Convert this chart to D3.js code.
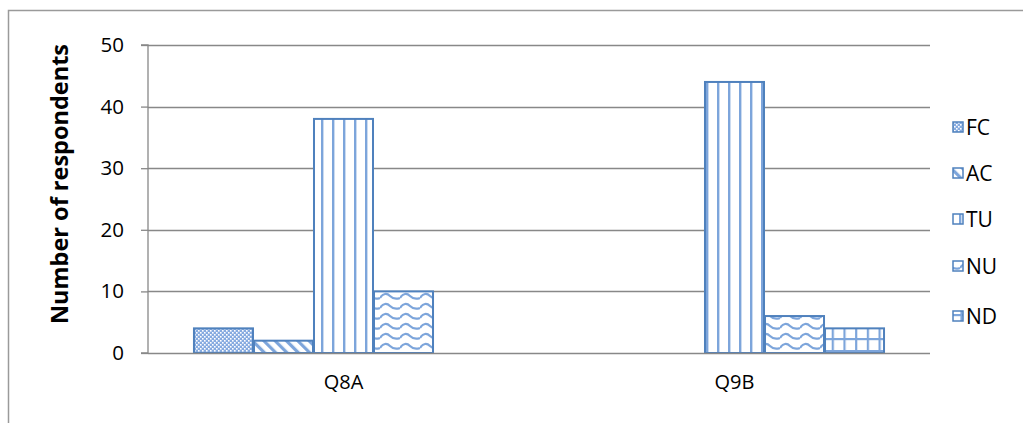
<!DOCTYPE html>
<html><head><meta charset="utf-8">
<script src="https://cdn.jsdelivr.net/npm/d3@7"></script>
<style>body{margin:0;background:#fff;overflow:hidden}svg{display:block}text{font-family:"Open Sans",sans-serif;fill:#000}</style>
</head><body><svg id="c" width="1023" height="423"></svg>
<script>
const categories = ["Q8A", "Q9B"];
const seriesNames = ["FC", "AC", "TU", "NU", "ND"];
const FC = [4, 0];
const AC = [2, 0];
const TU = [38, 44];
const NU = [10, 6];
const ND = [0, 4];
const yTicks = [0, 10, 20, 30, 40, 50];
const seriesValues = [FC, AC, TU, NU, ND];

const svg = d3.select("#c");
const blue = "#4F81BD", light = "#7DA5DB";
const defs = svg.append("defs");
// patterns
let p = defs.append("pattern").attr("id","p0").attr("patternUnits","userSpaceOnUse").attr("width",4).attr("height",4);
p.append("rect").attr("width",4).attr("height",4).attr("fill","#86ABE0");
p.append("rect").attr("x",0).attr("y",0).attr("width",1.6).attr("height",1.6).attr("fill","#fff");
p.append("rect").attr("x",2).attr("y",2).attr("width",1.6).attr("height",1.6).attr("fill","#fff");
p = defs.append("pattern").attr("id","p1").attr("patternUnits","userSpaceOnUse").attr("width",8).attr("height",8).attr("patternTransform","rotate(-45)");
p.append("rect").attr("width",8).attr("height",8).attr("fill","#fff");
p.append("rect").attr("x",0).attr("width",3.2).attr("height",8).attr("fill",light);
p = defs.append("pattern").attr("id","p2").attr("patternUnits","userSpaceOnUse").attr("width",11).attr("height",10).attr("x",2);
p.append("rect").attr("width",11).attr("height",10).attr("fill","#fff");
p.append("rect").attr("x",0).attr("width",2.4).attr("height",10).attr("fill",light);
p = defs.append("pattern").attr("id","p3").attr("patternUnits","userSpaceOnUse").attr("width",20).attr("height",10).attr("y",1);
p.append("rect").attr("width",20).attr("height",10).attr("fill","#fff");
p.append("path").attr("d","M0,7 C3,2 7,2 10,5 C13,8 17,8 20,7").attr("fill","none").attr("stroke",light).attr("stroke-width",2.2);
p = defs.append("pattern").attr("id","p4").attr("patternUnits","userSpaceOnUse").attr("width",11.7).attr("height",12).attr("x",1).attr("y",2);
p.append("rect").attr("width",11.7).attr("height",12).attr("fill","#fff");
p.append("rect").attr("x",0).attr("width",2.2).attr("height",12).attr("fill",light);
p.append("rect").attr("y",0).attr("width",11.7).attr("height",2.2).attr("fill",light);

// outer border
svg.append("rect").attr("x",8.5).attr("y",10.5).attr("width",1030).attr("height",430).attr("fill","none").attr("stroke","#9a9a9a").attr("stroke-width",1.5);

const pl = 148, pr = 930, pt = 45, pb = 353;
const y = d3.scaleLinear().domain([0,50]).range([pb, pt]);
const x0 = d3.scaleBand().domain(categories).range([pl, pr]).paddingInner(0.2326).paddingOuter(0.1163);
const x1 = d3.scaleBand().domain(seriesNames).range([0, x0.bandwidth()]);

// gridlines
svg.append("g").selectAll("line").data(yTicks.filter(d=>d>0)).join("line")
  .attr("x1",pl).attr("x2",pr).attr("y1",d=>Math.round(y(d))+0.5).attr("y2",d=>Math.round(y(d))+0.5)
  .attr("stroke","#888").attr("stroke-width",1.3);

// bars
const g = svg.append("g");
categories.forEach((c, ci) => {
  seriesNames.forEach((s, si) => {
    const v = seriesValues[si][ci];
    if (v <= 0) return;
    g.append("rect").attr("x", x0(c) + x1(s) + 0.5).attr("y", y(v)).attr("width", x1.bandwidth() - 1)
      .attr("height", y(0) - y(v)).attr("fill", `url(#p${si})`).attr("stroke", blue).attr("stroke-width", 2);
  });
});

// y axis
const ya = svg.append("g").attr("transform",`translate(${pl},0)`)
  .call(d3.axisLeft(y).tickValues(yTicks).tickSize(7).tickPadding(17));
ya.select(".domain").attr("stroke","#888").attr("stroke-width",1.3).attr("d",`M-7,${pt}H0V${pb}H-7`);
ya.selectAll(".tick line").attr("stroke","#888").attr("stroke-width",1.3);
ya.selectAll(".tick text").style("font-size","20.5px").style("font-family","Open Sans");
// baseline
svg.append("line").attr("x1",pl).attr("x2",pr).attr("y1",pb+0.5).attr("y2",pb+0.5).attr("stroke","#888").attr("stroke-width",1.5);

// x axis labels
const xa = svg.append("g").attr("transform",`translate(0,${pb})`).call(d3.axisBottom(x0).tickSize(0).tickPadding(22));
xa.select(".domain").remove();
xa.selectAll(".tick text").style("font-size","20px").style("font-family","Open Sans");

// y title
svg.append("text").attr("transform",`translate(68,184) rotate(-90)`).attr("text-anchor","middle")
  .style("font-size","23.5px").style("font-weight","bold").text("Number of respondents");

// legend
const ly = [127, 173, 219, 266, 316];
const lg = svg.append("g");
seriesNames.forEach((s, i) => {
  lg.append("rect").attr("x",953).attr("y",ly[i]-5).attr("width",10).attr("height",10)
    .attr("fill",`url(#p${i})`).attr("stroke",blue).attr("stroke-width",1.5);
  lg.append("text").attr("x",966).attr("y",ly[i]+7.5).style("font-size","21px").text(s);
});
</script></body></html>
